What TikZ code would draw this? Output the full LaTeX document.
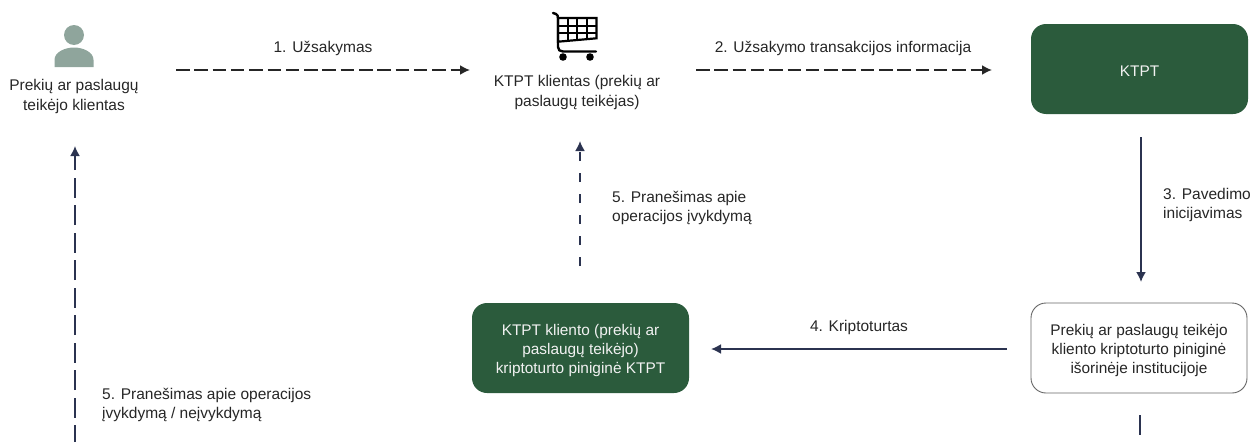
\documentclass[tikz,border=0pt]{standalone}
\usepackage{fontspec}
\setmainfont{Liberation Sans}
\usetikzlibrary{arrows.meta}
\definecolor{ktptgreen}{HTML}{2B5B3C}
\definecolor{navyline}{HTML}{2B3350}
\definecolor{persongrey}{HTML}{8FA59C}
\definecolor{labelgrey}{HTML}{262626}
\newcommand{\lowerstrut}{\rule{0pt}{15.5pt}}
\tikzset{
 x=1pt,y=-1pt,
 lbl/.style={font=\fontsize{15.5}{19.6}\selectfont,text=labelgrey,align=center,inner sep=0pt},
 lbll/.style={lbl,align=left},
 greenbox/.style={draw=none,fill=ktptgreen,rounded corners=15pt,text=white!95!black,font=\fontsize{15.4}{19}\selectfont,align=center,inner sep=0pt,minimum width=217pt,minimum height=90pt},
 whitebox/.style={draw=black!60,line width=0.9pt,fill=white,rounded corners=15pt,text=labelgrey,font=\fontsize{15.4}{19}\selectfont,align=center,inner sep=0pt,minimum width=216pt,minimum height=90pt},
 blackdash/.style={black!85,line width=1.7pt,dash pattern=on 13.5pt off 4.8pt,-{Latex[length=10pt,width=10pt]}},
 navydash/.style={navyline,line width=1.8pt,dash pattern=on 20pt off 7.5pt,dash phase=3pt,-{Latex[length=10pt,width=10pt]}},
 navydashshort/.style={navyline,line width=1.8pt,dash pattern=on 9.5pt off 11.5pt,-{Latex[length=10pt,width=10pt]}},
 navysolid/.style={navyline,line width=1.8pt,-{Latex[length=10pt,width=10pt]}},
 navyplain/.style={navyline,line width=1.8pt},
}
\begin{document}
\begin{tikzpicture}
\useasboundingbox (0,0) rectangle (1253,442);
% person
\fill[persongrey] (74,35) circle (10);
\fill[persongrey] (54.5,67) -- (54.5,60) .. controls (54.5,52) and (65,47.5) .. (74,47.5) .. controls (83,47.5) and (93.5,52) .. (93.5,60) -- (93.5,67) -- cycle;
\node[lbl] (customer) at (74,96.5) {Prekių ar paslaugų\\teikėjo klientas};
% cart
\draw[black,line width=2.4pt,line cap=round,line join=round] (553,13) -- (556,14) .. controls (557.5,15) and (558,16) .. (558,18) -- (558,47) .. controls (558,50) and (560,51.5) .. (563,51.5) -- (596,51.5);
\draw[black,line width=2.2pt] (558,18) -- (596.5,18) -- (596.5,38.3) -- (558,41.7) -- cycle;
\draw[black,line width=2pt] (558,25.5) -- (596.5,25.5) (558,32.8) -- (596.5,32.8)
  (567.5,18) -- (567.5,40.8) (577,18) -- (577,40) (586.5,18) -- (586.5,39.2);
\fill[black] (563,57) circle (3.8) (590,57) circle (3.8);
\node[lbl] (merchant) at (577,92.5) {KTPT klientas (prekių ar\\paslaugų teikėjas)};
% boxes
\node[greenbox] (ktpt) at (1139.5,69) {\lowerstrut KTPT};
\node[whitebox] (wallet) at (1139,348) {\lowerstrut Prekių ar paslaugų teikėjo\\kliento kriptoturto piniginė\\išorinėje institucijoje};
\node[greenbox] (merchwallet) at (580.5,348) {\lowerstrut KTPT kliento (prekių ar\\paslaugų teikėjo)\\kriptoturto piniginė KTPT};
% labels
\node[lbl] (l1) at (323,48) {1. Užsakymas};
\node[lbl] (l2) at (843,48) {2. Užsakymo transakcijos informacija};
\node[lbll,anchor=west] (l3) at (1163,205) {3. Pavedimo\\inicijavimas};
\node[lbl] (l4) at (859,327) {4. Kriptoturtas};
\node[lbll,anchor=west] (l5a) at (612,208) {5. Pranešimas apie\\operacijos įvykdymą};
\node[lbll,anchor=west] (l5b) at (102,405) {5. Pranešimas apie operacijos\\įvykdymą / neįvykdymą};
% connectors
\coordinate (a1s) at (176,70); \coordinate (a1e) at (470,70);
\coordinate (a2s) at (696,70); \coordinate (a2e) at (992,70);
\draw[blackdash] (a1s) -- (a1e);
\draw[blackdash] (a2s) -- (a2e);
\coordinate (a3s) at (1141,137); \coordinate (a3e) at (1141,282);
\draw[navysolid] (a3s) -- (a3e);
\coordinate (a4s) at (1007,349); \coordinate (a4e) at (711,349);
\draw[navysolid] (a4s) -- (a4e);
\coordinate (a5s) at (580,266); \coordinate (a5e) at (580,141);
\draw[navydashshort] (a5s) -- (a5e);
\coordinate (a6s) at (75,442); \coordinate (a6e) at (75,146);
\draw[navydash] (a6s) -- (a6e);
\coordinate (a7s) at (1140,415); \coordinate (a7e) at (1140,435);
\draw[navyplain] (a7s) -- (a7e);
\end{tikzpicture}
\end{document}
